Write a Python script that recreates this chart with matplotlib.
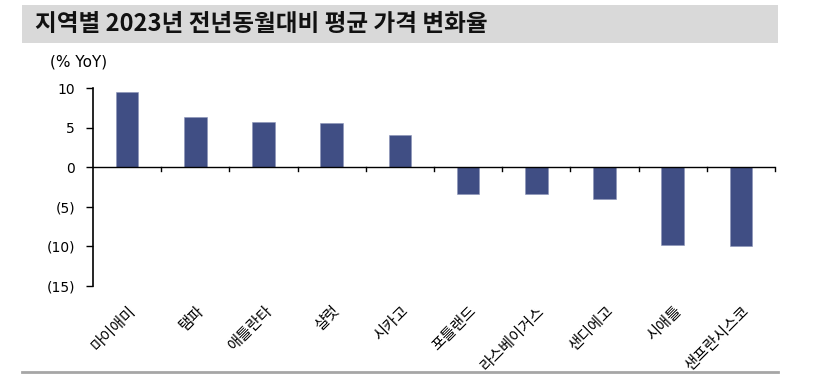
import matplotlib.pyplot as plt
from matplotlib.patches import Rectangle
from matplotlib.lines import Line2D

plt.rcParams['font.family'] = ['Noto Sans CJK KR', 'DejaVu Sans']

# data
cities = ['마이애미', '탬파', '애틀란타', '샬럿', '시카고',
          '포틀랜드', '라스베이거스', '샌디에고', '시애틀', '샌프란시스코']
yoy = [9.45, 6.4, 5.75, 5.6, 4.1, -3.35, -3.35, -4.0, -9.8, -10.0]
yticks = [10, 5, 0, -5, -10, -15]
ytick_labels = ['10', '5', '0', '(5)', '(10)', '(15)']

fig = plt.figure(figsize=(8.15, 3.78), dpi=100)

# title bar
fig.patches.append(Rectangle((22 / 815, 1 - 43 / 378), 756 / 815, 38 / 378,
                             transform=fig.transFigure, facecolor='#d9d9d9',
                             edgecolor='none', zorder=0))
fig.text(35 / 815, 1 - 24 / 378, '지역별 2023년 전년동월대비 평균 가격 변화율',
         fontsize=17, fontweight='bold', va='center', ha='left', color='#111111')
fig.lines.append(Line2D([22 / 815, 778 / 815], [1 - 372 / 378] * 2,
                        transform=fig.transFigure, color='#a6a6a6', lw=2))

ax = fig.add_axes([93 / 815, 92 / 378, 682 / 815, 198 / 378])
x = range(len(cities))
ax.bar(x, yoy, width=0.33, color='#404e84', edgecolor='#8a93b8', linewidth=0.4, zorder=2)

ax.set_xlim(-0.5, len(cities) - 0.5)
ax.set_ylim(-15, 10)
ax.set_yticks(yticks)
ax.set_yticklabels(ytick_labels, fontsize=10, family='DejaVu Sans')

for s in ['top', 'right', 'bottom']:
    ax.spines[s].set_visible(False)
ax.spines['left'].set_linewidth(1.2)
ax.tick_params(axis='y', length=5, width=1, direction='out', pad=8)

# x axis at zero with ticks between categories
ax.axhline(0, color='black', lw=1, zorder=3)
ax.set_xticks([])
for b in [i + 0.5 for i in range(len(cities))]:
    ax.plot([b, b], [0, -0.45], color='black', lw=1, clip_on=False, zorder=3)

for i, c in enumerate(cities):
    ax.text(i, -17.1, c, rotation=45, ha='right', va='top',
            rotation_mode='anchor', fontsize=11)

fig.text(50 / 815, 1 - 62 / 378, '(% YoY)', fontsize=11, family='DejaVu Sans',
         va='center', ha='left')

fig.savefig('out.png', dpi=100)
